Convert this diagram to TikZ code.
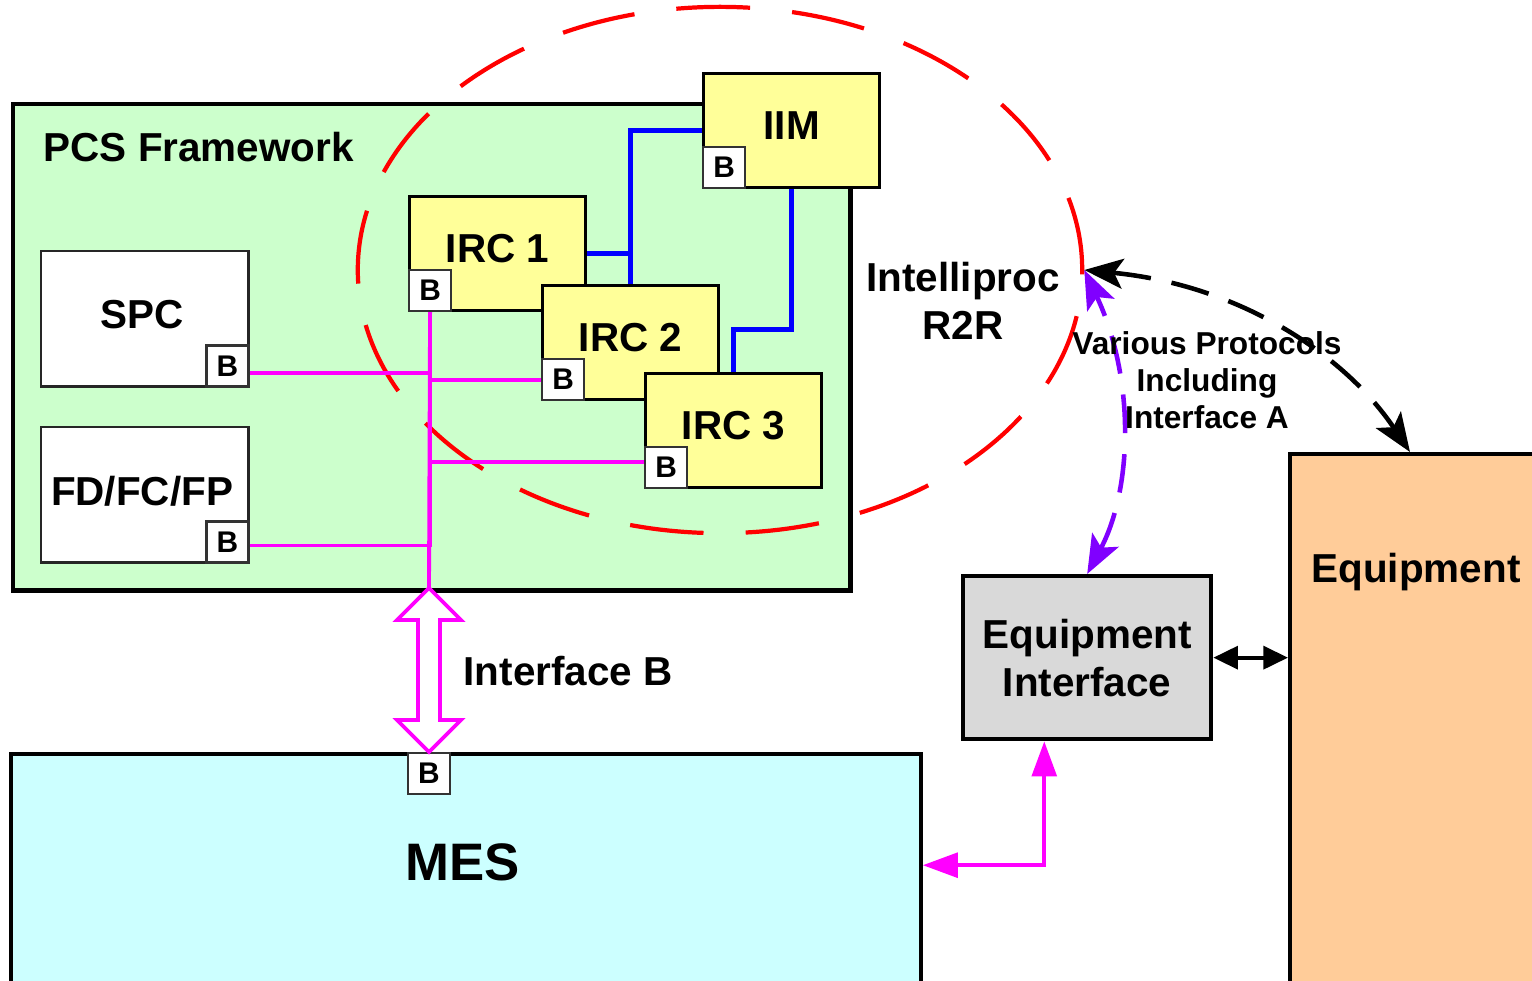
\documentclass[tikz,border=0pt]{standalone}
\usepackage{fontspec}
\setmainfont{Liberation Sans}
\usetikzlibrary{arrows.meta,shapes.geometric}
\definecolor{pcsgreen}{HTML}{CCFFCC}
\definecolor{ircyellow}{HTML}{FFFF99}
\definecolor{mescyan}{HTML}{CCFFFF}
\definecolor{eqorange}{HTML}{FFCC99}
\definecolor{eigray}{HTML}{D9D9D9}
\definecolor{mag}{HTML}{FF00FF}
\definecolor{pblue}{HTML}{0000FF}
\definecolor{ppurple}{HTML}{8000FF}
\definecolor{pred}{HTML}{FF0000}
\tikzset{
  solidtip/.tip={Triangle[length=10pt,width=7pt]},
  dashtip/.tip={Stealth[length=11pt,width=8.5pt,inset=2.5pt]},
  blacktip/.tip={Triangle[length=7pt,width=6.5pt]}
}
\begin{document}
\begin{tikzpicture}[x=0.01cm,y=-0.01cm,
  lbl/.style={font=\fontsize{11.5}{13.7}\selectfont\bfseries, align=center, inner sep=0pt},
  bbox/.style={draw=black!80, line width=0.6pt, fill=white, minimum width=0.42cm, minimum height=0.41cm, inner sep=0pt, font=\fontsize{8.5}{10}\selectfont\bfseries},
  ybox/.style={draw, line width=0.9pt, fill=ircyellow, minimum width=1.76cm, minimum height=1.14cm, anchor=north west, inner sep=0pt, font=\fontsize{11.5}{13.7}\selectfont\bfseries},
  wbox/.style={draw=black!85, line width=0.7pt, fill=white, minimum width=2.07cm, minimum height=1.35cm, anchor=north west, inner sep=0pt, font=\fontsize{11.5}{13.7}\selectfont\bfseries},
  bigbox/.style={draw, line width=1.2pt, anchor=north west, inner sep=0pt},
  busline/.style={draw=mag, line width=1.1pt},
  blueline/.style={draw=pblue, line width=1.4pt}]
\useasboundingbox (0,0) rectangle (1532,981);

% PCS framework
\node[bigbox, fill=pcsgreen, minimum width=8.37cm, minimum height=4.86cm] (pcs) at (11,102) {};
\node[lbl, anchor=west] (pcsl) at (43,147) {PCS Framework};

% Intelliproc ellipse
\node[ellipse, draw=pred, line width=1.2pt, dash pattern=on 21pt off 12pt, minimum width=7.24cm, minimum height=5.26cm, inner sep=0pt] (ell) at (720,270) {};

% SPC / FD boxes
\node[wbox] (spc) at (40,250) {};
\node[lbl] (spcl) at (142,315) {SPC};
\node[bbox, anchor=south east] (spcB) at (spc.south east) {B};
\node[wbox] (fd) at (40,426) {};
\node[lbl] (fdl) at (142,491) {FD/FC/FP};
\node[bbox, anchor=south east] (fdB) at (fd.south east) {B};

% IRC / IIM boxes
\node[ybox] (irc1) at (408,195) {\raisebox{3pt}{IRC 1}};
\node[bbox, anchor=south west] (irc1B) at (irc1.south west) {B};
\node[ybox] (irc2) at (541,284) {\raisebox{3pt}{IRC 2}};
\node[bbox, anchor=south west] (irc2B) at (irc2.south west) {B};
\node[ybox] (irc3) at (644,372) {\raisebox{3pt}{IRC 3}};
\node[bbox, anchor=south west] (irc3B) at (irc3.south west) {B};
\node[ybox] (iim) at (702,72) {\raisebox{3pt}{IIM}};
\node[bbox, anchor=south west] (iimB) at (iim.south west) {B};

% blue links
\draw[blueline] (iim.west) -| (irc2.north);
\draw[blueline] (irc1.east) -| (irc2.north);
\draw[blueline] (iim.south) -- ++(0,140) -| (irc3.north);

% magenta bus
\coordinate (ibt) at (429,588);
\coordinate (ibb) at (429,752);
\draw[busline] (irc1B.south) -- (ibt);
\draw[busline] ([yshift=-2pt]spcB.east) -| (irc1B.south);
\draw[busline] ([yshift=-1pt]fdB.east) -| (irc1B.south);
\draw[busline] (irc2B.west) -| (irc1B.south);
\draw[busline] ([yshift=1.7pt]irc3B.west) -| (irc1B.south);

% Intelliproc label
\node[lbl] (r2r) at (963,301) {Intelliproc\\R2R};

% MES
\node[bigbox, fill=mescyan, minimum width=9.09cm, minimum height=2.6cm] (mes) at (9,752) {};
\node[font=\fontsize{15}{18}\selectfont\bfseries, inner sep=0pt] (mesl) at (463,862) {MES};
\node[bbox, anchor=north] (mesB) at (ibb) {B};

% Interface B hollow double arrow
\draw[draw=mag, line width=1.1pt, fill=white, line join=miter] (ibt) -- ++(32,32) -- ++(-21,0) -- ++(0,100) -- ++(21,0) -- (ibb) -- ++(-32,-32) -- ++(21,0) -- ++(0,-100) -- ++(-21,0) -- cycle;
\node[lbl, anchor=west] (ifb) at (463,671) {Interface B};

% Equipment interface and equipment
\node[bigbox, fill=eigray, minimum width=2.48cm, minimum height=1.63cm, lbl, anchor=north west] (ei) at (961,574) {Equipment\\Interface};
\node[bigbox, fill=eqorange, minimum width=2.7cm, minimum height=5.6cm] (eq) at (1288,452) {};
\node[lbl] (eql) at (1416,572) {Equipment};
\coordinate (eqtop) at (1410,452);

% connectors
\draw[line width=1.1pt, blacktip-blacktip] (ei.east) -- (ei.east -| eq.west);
\draw[draw=mag, line width=1.2pt, solidtip-solidtip] ([yshift=5.4pt]mes.east) -| ([xshift=-12.2pt]ei.south);
\draw[draw=ppurple, line width=1.3pt, dash pattern=on 11pt off 6pt, dashtip-dashtip] (ei.north) .. controls (1132,490) and (1136,380) .. (ell.east);
\draw[line width=1.3pt, dash pattern=on 11pt off 6pt, dashtip-dashtip] (ell.east) .. controls (1240,285) and (1345,355) .. (eqtop);

\node[font=\fontsize{9}{10.6}\selectfont\bfseries, align=center, inner sep=0pt] (vp) at (1207,380) {Various Protocols\\Including\\Interface A};
\end{tikzpicture}
\end{document}
